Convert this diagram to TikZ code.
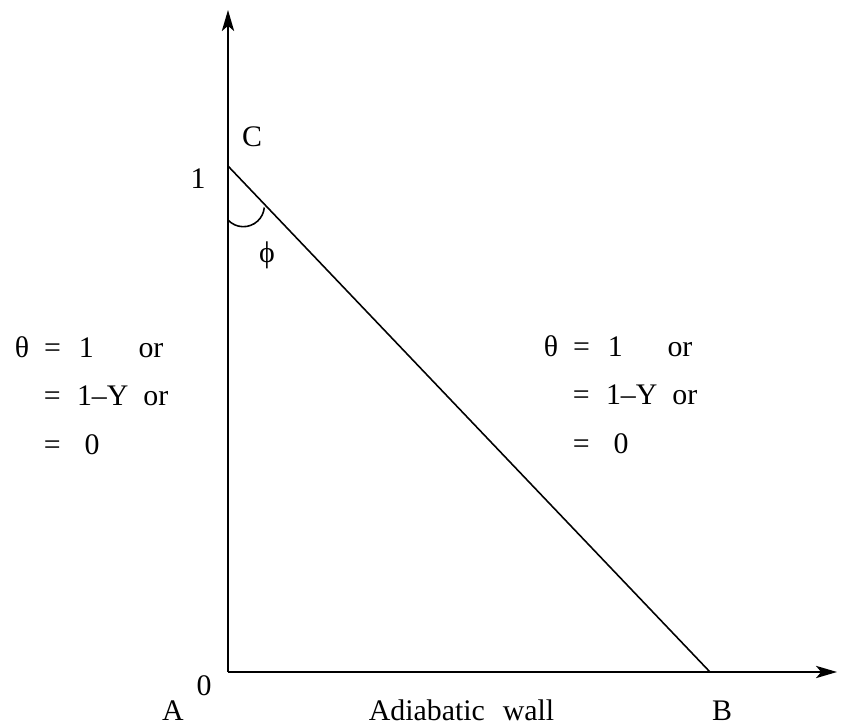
\documentclass[tikz,border=0pt]{standalone}
\usepackage{fontspec}
\setmainfont{Liberation Serif}
\usetikzlibrary{arrows.meta}

\begin{document}
\begin{tikzpicture}[x=0.02cm,y=-0.02cm,line width=0.9pt,
    every node/.style={font=\fontsize{17}{20}\selectfont,inner sep=0pt}]
  \useasboundingbox (0,0) rectangle (843,727);
  \coordinate (A) at (228,672);
  \coordinate (B) at (710,672);
  \coordinate (C) at (228,166);
  \coordinate (ytip) at (228,10);
  \coordinate (xtip) at (837,672);
  \draw[-{Stealth[length=12pt,width=7pt,inset=3pt]}] (A) -- (ytip);
  \draw[-{Stealth[length=12pt,width=7pt,inset=3pt]}] (A) -- (xtip);
  \draw (C) -- (B);
  \draw (228,220) arc[start angle=137,end angle=5,radius=21];
  \node (labC) at (252,137) {C};
  \node (lab1) at (198,179) {1};
  \node (labphi) at (267,255) {ϕ};
  \node (lab0) at (204,686) {0};
  \node (labA) at (173,711) {A};
  \node (labB) at (722,711) {B};
  \node[anchor=base west] (wall) at (368,720) {Adiabatic\hspace{.6em}wall};
  \foreach \bx/\by/\nm in {14/357/L,543/356/R}{
    \node[anchor=base west] (\nm1) at (\bx,\by)
      {θ\hspace{.5em}=\hspace{.6em}1\hspace{1.5em}or};
    \node[anchor=base west] (\nm2) at (\bx+29,\by+48)
      {=\hspace{.55em}1–Y\hspace{.5em}or};
    \node[anchor=base west] (\nm3) at (\bx+29,\by+97)
      {=\hspace{.8em}0};
  }
\end{tikzpicture}
\end{document}
